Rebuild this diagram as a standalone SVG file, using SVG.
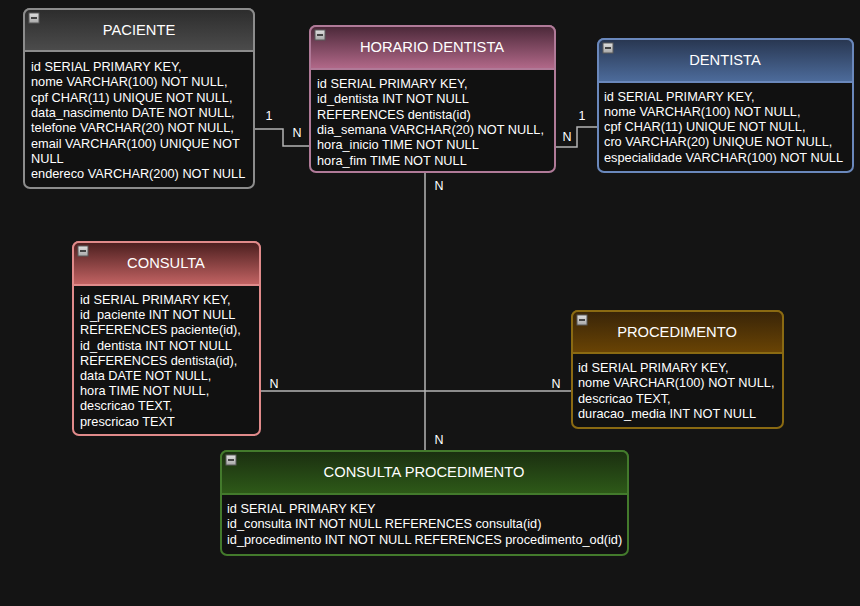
<svg xmlns="http://www.w3.org/2000/svg" width="860" height="606" viewBox="0 0 860 606">
<defs>
<linearGradient id="gGrey" x1="0" y1="0" x2="0" y2="1"><stop offset="0" stop-color="#2c2c2c"/><stop offset="1" stop-color="#4c4c4c"/></linearGradient>
<linearGradient id="gPink" x1="0" y1="0" x2="0" y2="1"><stop offset="0" stop-color="#4a2838"/><stop offset="1" stop-color="#b3698a"/></linearGradient>
<linearGradient id="gBlue" x1="0" y1="0" x2="0" y2="1"><stop offset="0" stop-color="#283650"/><stop offset="1" stop-color="#4d6c9c"/></linearGradient>
<linearGradient id="gRed" x1="0" y1="0" x2="0" y2="1"><stop offset="0" stop-color="#4a1e1e"/><stop offset="1" stop-color="#c46464"/></linearGradient>
<linearGradient id="gBrown" x1="0" y1="0" x2="0" y2="1"><stop offset="0" stop-color="#382408"/><stop offset="1" stop-color="#6a4404"/></linearGradient>
<linearGradient id="gGreen" x1="0" y1="0" x2="0" y2="1"><stop offset="0" stop-color="#1a2e10"/><stop offset="1" stop-color="#2e5a18"/></linearGradient>
<linearGradient id="gIcon" x1="0" y1="0" x2="0" y2="1"><stop offset="0" stop-color="#e0e0e0"/><stop offset="1" stop-color="#a8a8a8"/></linearGradient>
<g id="icon"><rect x="0" y="0" width="10" height="10" fill="url(#gIcon)" stroke="#5a5a5a" stroke-width="1"/><rect x="2" y="4" width="6" height="2" fill="#444"/></g>
</defs>
<style>
text{font-family:"Liberation Sans",Arial,sans-serif;fill:#ffffff}
.t{font-size:14.7px;text-anchor:middle}
.b{font-size:12.75px}
.l{font-size:12.5px;text-anchor:middle}
.body{fill:#111111}
.con{fill:none;stroke:#b4b4b4;stroke-width:1.5}
</style>
<rect width="860" height="606" fill="#141414"/>

<g id="connectors">
<path class="con" d="M254,129 H283 V146 H310"/>
<path class="con" d="M555,147 H577 V127 H598"/>
<path class="con" d="M425,172 V451"/>
<path class="con" d="M260,391 H572"/>
<text class="l" x="269" y="120">1</text>
<text class="l" x="297" y="137">N</text>
<text class="l" x="567" y="141">N</text>
<text class="l" x="582" y="120">1</text>
<text class="l" x="439" y="190">N</text>
<text class="l" x="439" y="444">N</text>
<text class="l" x="274" y="388">N</text>
<text class="l" x="556" y="388">N</text>
</g>

<g id="paciente">
<rect x="24" y="9" width="230" height="179" rx="6" class="body" stroke="#8c8c8c" stroke-width="2"/>
<path d="M24,51 V15 a6,6 0 0 1 6,-6 H248 a6,6 0 0 1 6,6 V51 Z" fill="url(#gGrey)" stroke="#8c8c8c" stroke-width="2"/>
<use href="#icon" x="29" y="13"/>
<text class="t" x="139" y="35">PACIENTE</text>
<text class="b" x="31" y="71">id SERIAL PRIMARY KEY,</text>
<text class="b" x="31" y="86.3">nome VARCHAR(100) NOT NULL,</text>
<text class="b" x="31" y="101.6">cpf CHAR(11) UNIQUE NOT NULL,</text>
<text class="b" x="31" y="116.9">data_nascimento DATE NOT NULL,</text>
<text class="b" x="31" y="132.2">telefone VARCHAR(20) NOT NULL,</text>
<text class="b" x="31" y="147.5">email VARCHAR(100) UNIQUE NOT</text>
<text class="b" x="31" y="162.8">NULL</text>
<text class="b" x="31" y="178.1">endereco VARCHAR(200) NOT NULL</text>
</g>

<g id="horario-dentista">
<rect x="310" y="26" width="245" height="146" rx="6" class="body" stroke="#b07a98" stroke-width="2"/>
<path d="M310,69 V32 a6,6 0 0 1 6,-6 H549 a6,6 0 0 1 6,6 V69 Z" fill="url(#gPink)" stroke="#b07a98" stroke-width="2"/>
<use href="#icon" x="315" y="30"/>
<text class="t" x="432" y="52">HORARIO DENTISTA</text>
<text class="b" x="317" y="88">id SERIAL PRIMARY KEY,</text>
<text class="b" x="317" y="103.3">id_dentista INT NOT NULL</text>
<text class="b" x="317" y="118.6">REFERENCES dentista(id)</text>
<text class="b" x="317" y="133.9">dia_semana VARCHAR(20) NOT NULL,</text>
<text class="b" x="317" y="149.2">hora_inicio TIME NOT NULL</text>
<text class="b" x="317" y="164.5">hora_fim TIME NOT NULL</text>
</g>

<g id="dentista">
<rect x="598" y="39" width="255" height="133" rx="6" class="body" stroke="#6a88bc" stroke-width="2"/>
<path d="M598,82 V45 a6,6 0 0 1 6,-6 H847 a6,6 0 0 1 6,6 V82 Z" fill="url(#gBlue)" stroke="#6a88bc" stroke-width="2"/>
<use href="#icon" x="603" y="43"/>
<text class="t" x="725" y="65">DENTISTA</text>
<text class="b" x="604" y="100.5">id SERIAL PRIMARY KEY,</text>
<text class="b" x="604" y="115.8">nome VARCHAR(100) NOT NULL,</text>
<text class="b" x="604" y="131.1">cpf CHAR(11) UNIQUE NOT NULL,</text>
<text class="b" x="604" y="146.4">cro VARCHAR(20) UNIQUE NOT NULL,</text>
<text class="b" x="604" y="161.7">especialidade VARCHAR(100) NOT NULL</text>
</g>

<g id="consulta">
<rect x="73" y="242" width="187" height="193" rx="6" class="body" stroke="#e08a8a" stroke-width="2"/>
<path d="M73,285 V248 a6,6 0 0 1 6,-6 H254 a6,6 0 0 1 6,6 V285 Z" fill="url(#gRed)" stroke="#e08a8a" stroke-width="2"/>
<use href="#icon" x="78" y="246"/>
<text class="t" x="166" y="268">CONSULTA</text>
<text class="b" x="80" y="304">id SERIAL PRIMARY KEY,</text>
<text class="b" x="80" y="319.2">id_paciente INT NOT NULL</text>
<text class="b" x="80" y="334.4">REFERENCES paciente(id),</text>
<text class="b" x="80" y="349.6">id_dentista INT NOT NULL</text>
<text class="b" x="80" y="364.8">REFERENCES dentista(id),</text>
<text class="b" x="80" y="380">data DATE NOT NULL,</text>
<text class="b" x="80" y="395.2">hora TIME NOT NULL,</text>
<text class="b" x="80" y="410.4">descricao TEXT,</text>
<text class="b" x="80" y="425.6">prescricao TEXT</text>
</g>

<g id="procedimento">
<rect x="572" y="311" width="211" height="117" rx="6" class="body" stroke="#8a6a12" stroke-width="2"/>
<path d="M572,353 V317 a6,6 0 0 1 6,-6 H777 a6,6 0 0 1 6,6 V353 Z" fill="url(#gBrown)" stroke="#8a6a12" stroke-width="2"/>
<use href="#icon" x="577" y="315"/>
<text class="t" x="677" y="337">PROCEDIMENTO</text>
<text class="b" x="578" y="372">id SERIAL PRIMARY KEY,</text>
<text class="b" x="578" y="387.3">nome VARCHAR(100) NOT NULL,</text>
<text class="b" x="578" y="402.6">descricao TEXT,</text>
<text class="b" x="578" y="417.9">duracao_media INT NOT NULL</text>
</g>

<g id="consulta-procedimento">
<rect x="221" y="451" width="407" height="104" rx="6" class="body" stroke="#437a2c" stroke-width="2"/>
<path d="M221,494 V457 a6,6 0 0 1 6,-6 H622 a6,6 0 0 1 6,6 V494 Z" fill="url(#gGreen)" stroke="#437a2c" stroke-width="2"/>
<use href="#icon" x="226" y="455"/>
<text class="t" x="424" y="477">CONSULTA PROCEDIMENTO</text>
<text class="b" x="227" y="512.5">id SERIAL PRIMARY KEY</text>
<text class="b" x="227" y="528">id_consulta INT NOT NULL REFERENCES consulta(id)</text>
<text class="b" x="227" y="543.5">id_procedimento INT NOT NULL REFERENCES procedimento_od(id)</text>
</g>
</svg>
